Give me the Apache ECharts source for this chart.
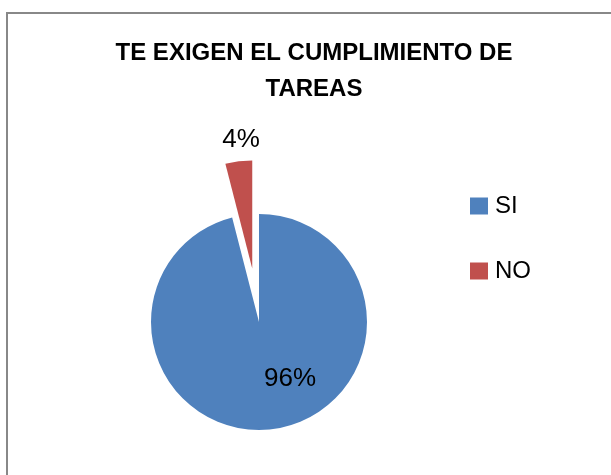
<!DOCTYPE html>
<html>
<head>
<meta charset="utf-8">
<script src="https://cdn.jsdelivr.net/npm/echarts@6/dist/echarts.min.js"></script>
<style>
html,body{margin:0;padding:0;background:#fff;}
#chart{width:611px;height:475px;}
</style>
</head>
<body>
<div id="chart"></div>
<script>
var titleText = 'TE EXIGEN EL CUMPLIMIENTO DE\nTAREAS';
var categories = ['SI', 'NO'];
var values = [96, 4];
var colors = ['#4F81BD', '#C0504D'];

var FONT = '"Liberation Sans", Arial, sans-serif';
var labelFormats = ['{d}%', '{d}%\n\n\n\n'];
var labelPads = [[0, 0, 0, 48], [0, 8, 0, 0]];
var labelLineHeights = [30, 36];

var chart = echarts.init(document.getElementById('chart'), null, {renderer: 'canvas'});
chart.setOption({
  animation: false,
  backgroundColor: '#fff',
  title: {
    text: titleText,
    left: 314,
    top: 35,
    padding: 0,
    textAlign: 'center',
    textStyle: {fontFamily: FONT, fontSize: 24, fontWeight: 'bold', color: '#000', lineHeight: 36}
  },
  legend: {
    orient: 'vertical',
    left: 465,
    top: 188,
    itemWidth: 18,
    itemHeight: 17,
    itemGap: 39,
    icon: 'rect',
    data: categories,
    textStyle: {fontFamily: FONT, fontSize: 24, color: '#000', lineHeight: 26, padding: [0, 0, 0, 2]}
  },
  graphic: [{
    type: 'rect',
    z: -10,
    silent: true,
    shape: {x: 7, y: 13, width: 700, height: 600},
    style: {fill: 'none', stroke: '#888888', lineWidth: 2}
  }],
  series: [{
    type: 'pie',
    center: [259, 322],
    radius: 108,
    startAngle: 90,
    clockwise: true,
    selectedMode: 'single',
    selectedOffset: 54,
    avoidLabelOverlap: false,
    emphasis: {disabled: true},
    labelLine: {show: false},
    itemStyle: {borderWidth: 0},
    data: categories.map(function (c, i) {
      return {
        name: c,
        value: values[i],
        selected: i === 1,
        itemStyle: {color: colors[i]},
        label: {
          show: true,
          position: 'inside',
          formatter: labelFormats[i],
          fontFamily: FONT,
          fontSize: 26,
          lineHeight: labelLineHeights[i],
          color: '#000',
          padding: labelPads[i]
        }
      };
    })
  }]
});
</script>
</body>
</html>
